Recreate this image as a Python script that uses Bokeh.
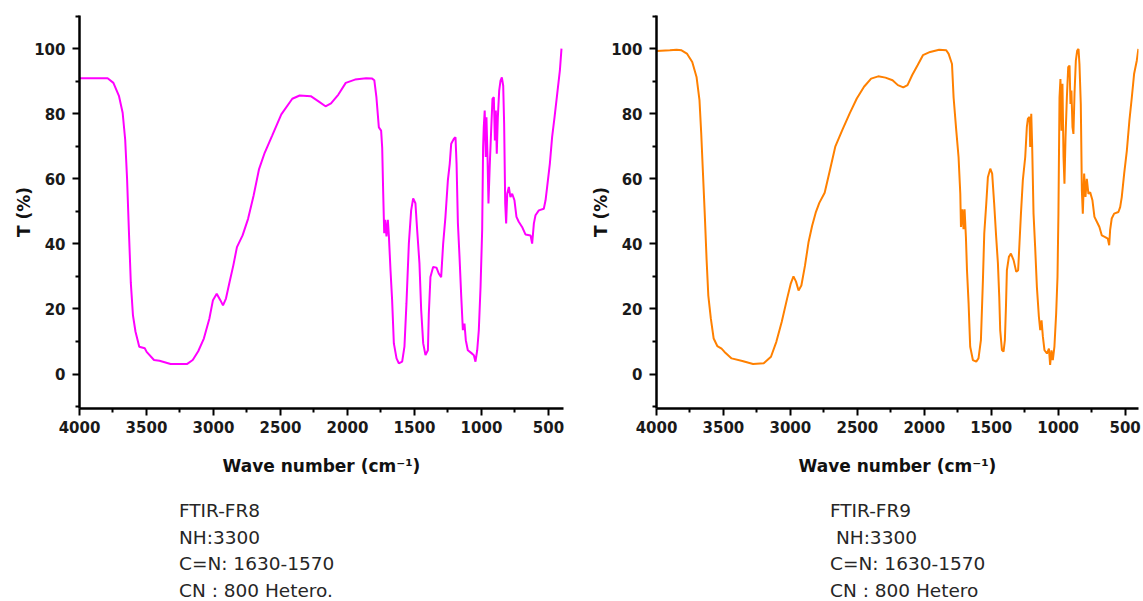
from bokeh.plotting import figure
from bokeh.models import Range1d, FixedTicker, Div
from bokeh.layouts import row, column
from bokeh.embed import file_html
from bokeh.resources import INLINE

# ---------------- data ----------------
fr8_wn = [4000, 3790, 3747, 3705, 3678, 3659, 3645, 3631, 3617, 3601, 3582, 3554, 3513, 3499, 3444,
          3403, 3320, 3196, 3155, 3114, 3072, 3031, 3004, 2976, 2949, 2929, 2907, 2880, 2852, 2825,
          2783, 2742, 2701, 2660, 2618, 2563, 2494, 2412, 2357, 2274, 2219, 2164, 2123, 2068, 2013,
          1944, 1861, 1816, 1800, 1784, 1766, 1749, 1741, 1734, 1726, 1719, 1709, 1699, 1691, 1679,
          1667, 1654, 1634, 1617, 1592, 1575, 1560, 1542, 1525, 1510, 1493, 1480, 1463, 1450, 1435,
          1418, 1400, 1393, 1381, 1361, 1336, 1319, 1301, 1286, 1269, 1251, 1237, 1226, 1206, 1194,
          1186, 1176, 1164, 1151, 1139, 1127, 1117, 1102, 1077, 1057, 1045, 1032, 1020, 1007, 995,
          988, 983, 976, 968, 963, 955, 948, 938, 928, 918, 908, 900, 893, 886, 878,
          868, 858, 848, 838, 831, 823, 816, 808, 796, 784, 771, 754, 739, 722, 697,
          672, 634, 622, 609, 597, 572, 535, 522, 510, 490, 473, 455, 435, 415, 403]
fr8_t = [90.9, 90.9, 89.5, 85.4, 80.3, 72.0, 60.0, 43.6, 28.0, 18.0, 13.0, 8.4, 7.9, 6.8, 4.3,
         4.1, 3.1, 3.1, 4.3, 7.0, 10.9, 17.0, 22.7, 24.7, 22.7, 21.1, 23.2, 28.3, 33.4, 39.0,
         42.6, 47.7, 54.8, 63.0, 68.0, 73.2, 79.8, 84.6, 85.6, 85.4, 83.9, 82.3, 83.2, 85.9, 89.5,
         90.5, 90.9, 90.8, 90.3, 85.0, 75.8, 74.8, 69.5, 56.4, 43.3, 47.4, 42.3, 47.4, 42.3, 31.9,
         22.7, 9.4, 4.8, 3.3, 3.8, 8.4, 21.7, 40.2, 50.3, 54.0, 52.5, 44.2, 34.0, 19.6, 9.4,
         5.8, 7.3, 18.6, 29.8, 32.9, 32.7, 30.9, 29.8, 40.1, 48.3, 59.5, 64.6, 70.8, 72.3, 72.8,
         64.6, 46.3, 36.0, 23.7, 13.5, 15.5, 10.4, 7.3, 6.5, 5.8, 3.8, 7.3, 13.5, 26.8, 44.2,
         69.7, 75.9, 81.0, 66.7, 78.9, 66.7, 52.4, 64.6, 74.8, 84.6, 85.1, 71.8, 81.0, 67.7, 78.9,
         87.1, 90.2, 91.2, 88.6, 76.9, 52.4, 46.3, 55.4, 57.5, 54.4, 55.4, 53.4, 48.3, 46.8, 45.2,
         42.9, 42.6, 40.1, 46.3, 48.8, 50.3, 50.8, 53.4, 57.5, 64.6, 72.8, 78.9, 86.1, 93.3, 100.0]

fr9_wn = [4000, 3900, 3850, 3813, 3773, 3733, 3701, 3679, 3666, 3653, 3639, 3626, 3613, 3594, 3573,
          3546, 3514, 3492, 3439, 3359, 3279, 3199, 3145, 3105, 3065, 3025, 2998, 2977, 2958, 2939,
          2918, 2891, 2865, 2838, 2811, 2784, 2744, 2704, 2664, 2611, 2557, 2504, 2450, 2397, 2344,
          2290, 2237, 2197, 2157, 2125, 2090, 2050, 2010, 1956, 1889, 1836, 1818, 1793, 1781, 1761,
          1744, 1731, 1726, 1716, 1707, 1699, 1689, 1681, 1669, 1657, 1637, 1612, 1595, 1577, 1562,
          1552, 1537, 1525, 1507, 1493, 1478, 1463, 1450, 1440, 1433, 1420, 1408, 1398, 1390, 1383,
          1368, 1353, 1333, 1313, 1299, 1289, 1278, 1264, 1246, 1234, 1226, 1214, 1209, 1201, 1194,
          1184, 1172, 1159, 1144, 1134, 1124, 1114, 1102, 1084, 1069, 1060, 1050, 1040, 1028, 1015,
          1005, 998, 990, 983, 975, 968, 960, 953, 945, 935, 925, 915, 908, 901, 893,
          886, 878, 868, 858, 848, 841, 831, 823, 816, 806, 796, 786, 774, 761, 744,
          729, 711, 692, 674, 649, 629, 619, 612, 600, 582, 550, 537, 525, 507, 487,
          468, 450, 433, 413, 401]
fr9_t = [99.3, 99.5, 99.7, 99.5, 98.5, 95.9, 91.3, 84.2, 74.0, 61.8, 48.6, 35.3, 24.1, 17.0, 10.9,
         8.6, 7.8, 6.8, 4.8, 4.0, 3.1, 3.3, 5.3, 9.9, 16.0, 23.1, 27.7, 30.0, 28.4, 25.7,
         27.2, 33.3, 40.4, 45.5, 49.6, 52.6, 55.7, 62.8, 70.0, 75.1, 80.1, 84.7, 88.3, 90.8, 91.5,
         91.1, 90.3, 88.8, 88.1, 88.8, 91.9, 94.9, 98.0, 99.0, 99.7, 99.5, 98.4, 95.3, 85.0, 74.8,
         66.7, 55.4, 45.2, 50.6, 44.5, 50.6, 42.1, 31.9, 21.7, 8.4, 4.3, 3.8, 4.8, 10.4, 28.8,
         43.2, 52.4, 60.5, 63.1, 61.6, 52.4, 42.1, 34.0, 23.7, 13.5, 7.4, 6.9, 10.4, 20.6, 31.9,
         36.0, 37.0, 35.0, 31.4, 31.9, 40.1, 49.3, 59.5, 66.7, 75.9, 78.5, 79.0, 69.8, 80.0, 69.8,
         49.3, 39.1, 26.8, 17.6, 13.5, 16.5, 11.4, 7.3, 6.3, 7.8, 2.8, 7.3, 4.3, 8.4, 18.6,
         29.8, 49.3, 85.0, 90.7, 74.8, 89.2, 66.7, 58.5, 72.8, 85.0, 94.3, 94.8, 83.0, 87.1, 75.9,
         73.8, 86.1, 96.3, 99.4, 99.9, 95.3, 83.0, 56.4, 49.3, 61.6, 54.4, 60.0, 55.4, 55.9, 53.4,
         48.3, 46.8, 45.2, 42.6, 42.1, 41.6, 39.6, 44.2, 47.8, 49.3, 49.8, 51.3, 54.4, 61.6, 68.7,
         77.9, 85.0, 92.2, 96.3, 99.9]

assert len(fr8_wn) == len(fr8_t), (len(fr8_wn), len(fr8_t))
assert len(fr9_wn) == len(fr9_t), (len(fr9_wn), len(fr9_t))

x_major = [4000, 3500, 3000, 2500, 2000, 1500, 1000, 500]
x_minor = [3750, 3250, 2750, 2250, 1750, 1250, 750]
y_major = [0, 20, 40, 60, 80, 100]
y_minor = [-10, 10, 30, 50, 70, 90, 110]

notes_fr8 = ["FTIR-FR8", "NH:3300", "C=N: 1630-1570", "CN : 800 Hetero."]
notes_fr9 = ["FTIR-FR9", "&nbsp;NH:3300", "C=N: 1630-1570", "CN : 800 Hetero"]

x_label = "Wave number (cm\u207b\u00b9)"
y_label = "T (%)"


def make_fig(wn, t, color, width, x_end, border_left, border_right):
    p = figure(width=width, height=478, output_backend="svg", toolbar_location=None,
               x_range=Range1d(4000, x_end), y_range=Range1d(-10.6, 110.2),
               min_border_left=border_left, min_border_right=border_right,
               min_border_top=15, min_border_bottom=70)
    p.line(wn, t, line_color=color, line_width=2)
    p.outline_line_color = None
    p.xgrid.visible = False
    p.ygrid.visible = False
    p.background_fill_color = "white"
    p.border_fill_color = "white"
    p.xaxis.ticker = FixedTicker(ticks=x_major, minor_ticks=x_minor)
    p.yaxis.ticker = FixedTicker(ticks=y_major, minor_ticks=y_minor)
    for ax in (p.xaxis, p.yaxis):
        ax.axis_line_width = 2.5
        ax.axis_line_color = "black"
        ax.major_tick_line_width = 2
        ax.minor_tick_line_width = 2
        ax.major_tick_in = 0
        ax.major_tick_out = 7
        ax.minor_tick_in = 0
        ax.minor_tick_out = 4
        ax.major_label_text_font = "DejaVu Sans"
        ax.major_label_text_font_style = "bold"
        ax.major_label_text_font_size = "15px"
        ax.major_label_text_color = "#1a1a1a"
        ax.axis_label_text_font = "DejaVu Sans"
        ax.axis_label_text_font_style = "bold"
        ax.axis_label_text_font_size = "17px"
        ax.axis_label_text_color = "#111111"
    p.xaxis.axis_label = x_label
    p.yaxis.axis_label = y_label
    p.xaxis.major_label_standoff = 5
    p.xaxis.axis_label_standoff = 20
    p.yaxis.major_label_standoff = 7
    p.yaxis.axis_label_standoff = -3
    return p


def make_note(lines, width, left):
    html = ("<div style=\"font-family:'DejaVu Sans'; font-size:18.5px; line-height:26.5px; "
            "color:#262626; padding-top:20px; padding-left:%dpx; white-space:nowrap;\">%s</div>"
            % (left, "<br>".join(lines)))
    return Div(text=html, width=width, height=121, margin=0,
               styles={"overflow": "hidden"})


p1 = make_fig(fr8_wn, fr8_t, "#FF00FF", 588, 388, 79, 25)
p2 = make_fig(fr9_wn, fr9_t, "#FF8000", 553, 400, 68, 3)
d1 = make_note(notes_fr8, 588, 179)
d2 = make_note(notes_fr9, 553, 242)

layout = row(column(p1, d1), column(p2, d2))
open("out.html", "w").write(file_html(layout, INLINE))
